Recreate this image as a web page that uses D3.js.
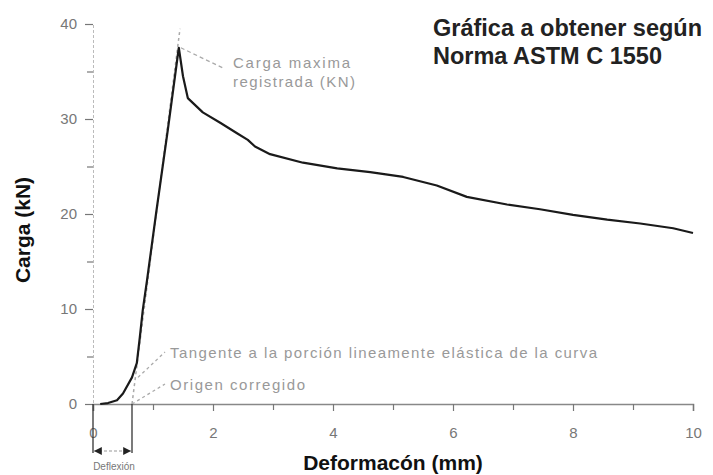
<!DOCTYPE html>
<html>
<head>
<meta charset="utf-8">
<script src="https://cdn.jsdelivr.net/npm/d3@7"></script>
<style>
  body { margin: 0; background: #fff; }
  text { font-family: "Liberation Sans", Arial, sans-serif; }
</style>
</head>
<body>
<script>
// curva carga - deformacion
var deformacion = [0.12, 0.25, 0.4, 0.5, 0.65, 0.73, 0.78, 0.83, 0.9, 1.05, 1.25, 1.43, 1.5, 1.58, 1.83, 2.12, 2.4, 2.58, 2.7, 2.95, 3.5, 4.07, 4.62, 5.17, 5.73, 6.23, 6.9, 7.45, 8.0, 8.57, 9.12, 9.67, 10.0];
var carga       = [0, 0.1, 0.4, 1.1, 2.8, 4.3, 7.0, 9.9, 13, 20, 29, 37.5, 34.5, 32.2, 30.7, 29.6, 28.5, 27.8, 27.1, 26.3, 25.4, 24.8, 24.4, 23.9, 23.0, 21.8, 21.0, 20.5, 19.9, 19.4, 19.0, 18.5, 18.0];

// ticks
var xTicks = [0, 2, 4, 6, 8, 10];
var xMinor = [1, 3, 5, 7, 9];
var yTicks = [0, 10, 20, 30, 40];
var yMinor = [5, 15, 25, 35];

// puntos auxiliares
var origenCorregido = [0.65, 0];
var tangenteFin = [1.45, 39.5];
var cargaMax = [1.43, 37.5];

var width = 713, height = 475;
var margin = {top: 24, right: 20, bottom: 71, left: 93};

var svg = d3.select("body").append("svg")
    .attr("width", width)
    .attr("height", height);

var x = d3.scaleLinear().domain([0, 10]).range([margin.left, margin.left + 600]);
var y = d3.scaleLinear().domain([0, 40]).range([height - margin.bottom, margin.top]);

// eje y
var yAxis = svg.append("g")
    .attr("transform", "translate(" + margin.left + ",0)")
    .call(d3.axisLeft(y).tickValues(yTicks).tickSize(8).tickPadding(8));
svg.append("g")
    .attr("transform", "translate(" + margin.left + ",0)")
    .call(d3.axisLeft(y).tickValues(yMinor).tickSize(6).tickFormat(""))
    .select(".domain").remove();
yAxis.select(".domain").attr("stroke", "#bbb").attr("stroke-dasharray", "3,2");

// eje x
var xAxis = svg.append("g")
    .attr("transform", "translate(0," + y(0) + ")")
    .call(d3.axisBottom(x).tickValues(xTicks).tickSize(7).tickPadding(16));
svg.append("g")
    .attr("transform", "translate(0," + y(0) + ")")
    .call(d3.axisBottom(x).tickValues(xMinor).tickSize(6).tickFormat(""))
    .select(".domain").remove();
xAxis.select(".domain").attr("stroke", "#888").attr("stroke-width", 1.5);

svg.selectAll(".tick line").attr("stroke", "#777").attr("stroke-width", 1.2);
svg.selectAll(".tick text")
    .attr("fill", "#777")
    .style("font-size", "15px")
    .style("font-family", "Liberation Sans, Arial, sans-serif");

// tangente (linea discontinua)
svg.append("line")
    .attr("x1", x(origenCorregido[0])).attr("y1", y(origenCorregido[1]))
    .attr("x2", x(tangenteFin[0])).attr("y2", y(tangenteFin[1]))
    .attr("stroke", "#aaa").attr("stroke-width", 1.5)
    .attr("stroke-dasharray", "3,3");

// curva
var line = d3.line()
    .x(function(d, i) { return x(deformacion[i]); })
    .y(function(d, i) { return y(carga[i]); });

svg.append("path")
    .datum(carga)
    .attr("d", line)
    .attr("fill", "none")
    .attr("stroke", "#1a1a1a")
    .attr("stroke-width", 2.2)
    .attr("stroke-linejoin", "round");

// anotaciones
var gris = "#999";
svg.append("line")
    .attr("x1", x(cargaMax[0]) + 2).attr("y1", y(cargaMax[1]))
    .attr("x2", 223).attr("y2", 68)
    .attr("stroke", "#aaa").attr("stroke-width", 1.3).attr("stroke-dasharray", "4,3");

svg.append("text").attr("x", 233).attr("y", 68)
    .attr("fill", gris).style("font-size", "15px")
    .attr("textLength", 117).attr("lengthAdjust", "spacing")
    .text("Carga maxima");
svg.append("text").attr("x", 233).attr("y", 87)
    .attr("fill", gris).style("font-size", "15px")
    .attr("textLength", 122).attr("lengthAdjust", "spacing")
    .text("registrada (KN)");

svg.append("line")
    .attr("x1", x(0.75)).attr("y1", y(2.8))
    .attr("x2", 165).attr("y2", 352)
    .attr("stroke", "#aaa").attr("stroke-width", 1.3).attr("stroke-dasharray", "3,3");
svg.append("text").attr("x", 170).attr("y", 358)
    .attr("fill", gris).style("font-size", "15px")
    .attr("textLength", 427).attr("lengthAdjust", "spacing")
    .text("Tangente a la porción lineamente elástica de la curva");

svg.append("line")
    .attr("x1", x(origenCorregido[0])).attr("y1", y(0))
    .attr("x2", 165).attr("y2", 384)
    .attr("stroke", "#aaa").attr("stroke-width", 1.3).attr("stroke-dasharray", "3,3");
svg.append("text").attr("x", 170).attr("y", 390)
    .attr("fill", gris).style("font-size", "15px")
    .attr("textLength", 135).attr("lengthAdjust", "spacing")
    .text("Origen corregido");

// deflexion
var yDef = 451;
[0, origenCorregido[0]].forEach(function(v) {
    svg.append("line")
        .attr("x1", x(v)).attr("y1", y(0))
        .attr("x2", x(v)).attr("y2", yDef + 2)
        .attr("stroke", "#333").attr("stroke-width", 1.3);
});
svg.append("defs").append("marker")
    .attr("id", "flecha")
    .attr("viewBox", "0 0 10 10")
    .attr("refX", 10).attr("refY", 5)
    .attr("markerWidth", 7).attr("markerHeight", 6)
    .attr("orient", "auto-start-reverse")
    .append("path").attr("d", "M0,0L10,5L0,10z").attr("fill", "#222");
svg.append("line")
    .attr("x1", x(0) + 1).attr("y1", yDef)
    .attr("x2", x(origenCorregido[0]) - 1).attr("y2", yDef)
    .attr("stroke", "#bbb").attr("stroke-width", 1.3).attr("stroke-dasharray", "3,2")
    .attr("marker-start", "url(#flecha)")
    .attr("marker-end", "url(#flecha)");
svg.append("text").attr("x", 114).attr("y", 470)
    .attr("text-anchor", "middle")
    .attr("fill", "#777").style("font-size", "10px").text("Deflexión");

// titulos de ejes
svg.append("text")
    .attr("x", 393).attr("y", 470)
    .attr("text-anchor", "middle")
    .style("font-size", "21px").style("font-weight", "bold")
    .attr("fill", "#111")
    .text("Deformacón (mm)");

svg.append("text")
    .attr("transform", "translate(30,230) rotate(-90)")
    .attr("text-anchor", "middle")
    .style("font-size", "21px").style("font-weight", "bold")
    .attr("fill", "#111")
    .text("Carga (kN)");

// titulo
svg.append("text").attr("x", 433).attr("y", 36)
    .style("font-size", "23.5px").style("font-weight", "bold").attr("fill", "#222")
    .text("Gráfica a obtener según");
svg.append("text").attr("x", 433).attr("y", 64)
    .style("font-size", "23.5px").style("font-weight", "bold").attr("fill", "#222")
    .text("Norma ASTM C 1550");
</script>
</body>
</html>
